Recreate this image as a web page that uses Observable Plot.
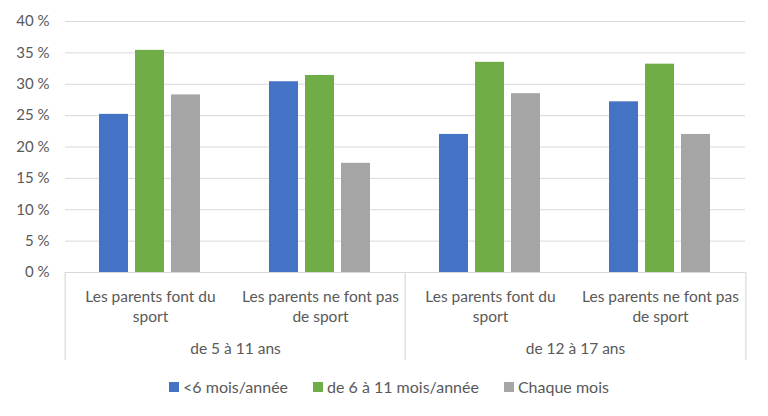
<!DOCTYPE html>
<html><head><meta charset="utf-8">
<script src="https://cdn.jsdelivr.net/npm/d3@7"></script>
<script src="https://cdn.jsdelivr.net/npm/@observablehq/plot@0.6"></script>
<style>
body{margin:0;background:#fff;font-family:Lato, sans-serif;}
.lg-swatch:not(:last-child){margin-right:25px;}
.lg-swatch:last-child{margin-right:0;}
.lg-swatch svg{margin-right:4px;}
</style></head><body><div id="chart"></div>
<script>
const groups = ["de 5 à 11 ans", "de 12 à 17 ans"];
const categories = ["Les parents font du\nsport", "Les parents ne font pas\nde sport"];
const series = ["<6 mois/année", "de 6 à 11 mois/année", "Chaque mois"];
const colors = ["#4472C4", "#70AD47", "#A5A5A5"];
const lessThan6 = [25.2, 30.4, 22.0, 27.2];
const sixToEleven = [35.4, 31.4, 33.5, 33.2];
const everyMonth = [28.3, 17.4, 28.5, 22.0];
const yTicks = [0, 5, 10, 15, 20, 25, 30, 35, 40];

const W = 768, H = 370, mt = 21, mb = 98, ml = 63, mr = 22;
const slots = groups.flatMap(g => categories.map(c => ({group: g, category: c, key: g + "|" + c})));
const values = [lessThan6, sixToEleven, everyMonth];
const data = slots.flatMap((s, i) => series.map((name, j) => ({key: s.key, series: name, value: values[j][i]})));
const facetW = (W - ml - mr) / slots.length;
const frameH = H - mt - mb;
const firstOfGroup = groups.map(g => slots.find(s => s.group === g));
const lastSlot = slots[slots.length - 1];
const grid = "#d9d9d9", ink = "#595959";
const fs = 15.5;

const chart = Plot.plot({
  width: W, height: H, marginTop: mt, marginBottom: mb, marginLeft: ml, marginRight: mr,
  style: {fontFamily: "Lato, sans-serif", fontSize: fs + "px", color: ink, background: "#fff"},
  fx: {domain: slots.map(s => s.key), padding: 0, axis: null},
  x: {domain: series, paddingInner: 0.19, paddingOuter: 0.9, axis: null},
  y: {domain: [0, 40], axis: null},
  color: {domain: series, range: colors},
  marks: [
    Plot.ruleY(yTicks, {stroke: grid, strokeWidth: 1}),
    Plot.axisY(yTicks, {tickSize: 0, tickPadding: 16, tickFormat: d => d + "\u202F%", fill: ink, fontSize: 15, label: null}),
    Plot.barY(data, {fx: "key", x: "series", y: "value", fill: "series"}),
    Plot.text(slots, {fx: "key", text: "category", frameAnchor: "bottom", lineAnchor: "middle", dy: 33, lineHeight: 1.29, fill: ink, fontSize: fs}),
    Plot.text(firstOfGroup, {fx: "key", text: "group", frameAnchor: "bottom-right", textAnchor: "middle", lineAnchor: "middle", dy: 77, fill: ink, fontSize: fs}),
    Plot.ruleX(firstOfGroup, {fx: "key", x: null, dx: -facetW / 2, insetTop: frameH, insetBottom: -88, stroke: grid, strokeWidth: 1.2}),
    Plot.ruleX([lastSlot], {fx: "key", x: null, dx: facetW / 2, insetTop: frameH, insetBottom: -88, stroke: grid, strokeWidth: 1.2})
  ]
});
document.getElementById("chart").appendChild(chart);

const legend = Plot.legend({
  color: {domain: series, range: colors},
  swatchSize: 10, className: "lg",
  style: {fontFamily: "Lato, sans-serif", fontSize: "16px", color: ink}
});
legend.style.justifyContent = "center";
legend.style.boxSizing = "border-box";
legend.style.width = W + "px";
legend.style.paddingLeft = "10px";
legend.style.marginTop = "0px";
document.getElementById("chart").appendChild(legend);
</script></body></html>
